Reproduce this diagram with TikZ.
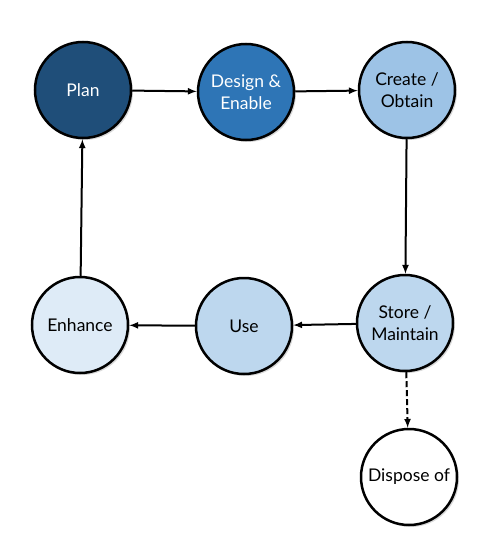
\documentclass[tikz,border=0pt]{standalone}
\usepackage{fontspec}
\setmainfont{Lato}
\usepackage{xcolor}
\usepackage{tikz}
\usetikzlibrary{arrows}
\usetikzlibrary{shadows}

\definecolor{darkblue}{HTML}{1F4E79}
\definecolor{midblue}{HTML}{2E75B6}
\definecolor{lightblue}{HTML}{9DC3E6}
\definecolor{paleblue}{HTML}{BDD7EE}
\definecolor{faintblue}{HTML}{DEEBF7}

\tikzset{
    stage/.style = {circle, draw = black, line width = 2.5pt, minimum size = 96pt,
        inner sep = 0pt, align = center, font = \fontsize{17.5}{22}\selectfont,
        drop shadow = {shadow xshift = 2pt, shadow yshift = -2pt, opacity = 0.3}},
    flow/.style = {-latex, line width = 2pt}
}

\begin{document}
\begin{tikzpicture}[x = 1pt, y = -1pt]
        \useasboundingbox (0, 0) rectangle (486, 540);

        \node[stage, fill = darkblue, text = white] (plan) at (83, 90) {Plan};
        \node[stage, fill = midblue, text = white] (design) at (246, 92) {Design \&\\Enable};
        \node[stage, fill = lightblue] (create) at (407, 90) {Create /\\Obtain};
        \node[stage, fill = paleblue] (store) at (405, 323) {Store /\\Maintain};
        \node[stage, fill = paleblue] (use) at (244, 326) {Use};
        \node[stage, fill = faintblue] (enhance) at (80, 325) {Enhance};
        \node[stage, fill = white] (dispose) at (409, 477) {Dispose of};

        \draw[flow] (plan) -- (design);
        \draw[flow] (design) -- (create);
        \draw[flow] (create) -- (store);
        \draw[flow] (store) -- (use);
        \draw[flow] (use) -- (enhance);
        \draw[flow] (enhance) -- (plan);
        \draw[flow, dash pattern = on 6pt off 3pt] (store) -- (dispose);
    \end{tikzpicture}
\end{document}
